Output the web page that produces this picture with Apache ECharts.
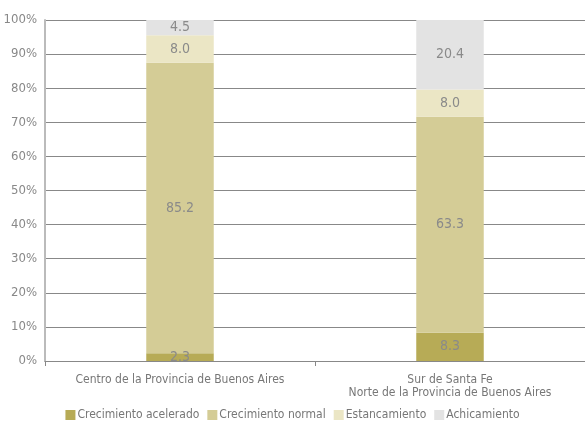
<!DOCTYPE html>
<html>
<head>
<meta charset="utf-8">
<script src="https://cdn.jsdelivr.net/npm/echarts@6/dist/echarts.min.js"></script>
<style>
  html, body { margin: 0; padding: 0; background: #fff; }
  #chart { width: 585px; height: 426px; }
</style>
</head>
<body>
<div id="chart"></div>
<script>
var categories = ['Centro de la Provincia de Buenos Aires', 'Sur de Santa Fe\nNorte de la Provincia de Buenos Aires'];
var seriesNames = ['Crecimiento acelerado', 'Crecimiento normal', 'Estancamiento', 'Achicamiento'];
var acelerado = [2.3, 8.3];
var normal = [85.2, 63.3];
var estancamiento = [8.0, 8.0];
var achicamiento = [4.5, 20.4];
var yTicks = [0, 10, 20, 30, 40, 50, 60, 70, 80, 90, 100];

(function () {
    var chart = echarts.init(document.getElementById('chart'));
    var font = '"Liberation Sans Narrow", "DejaVu Sans Condensed", sans-serif';
    var colors = ['#b7ab56', '#d4cc96', '#ebe6c5', '#e3e3e3'];
    var values = [acelerado, normal, estancamiento, achicamiento];

    var series = seriesNames.map(function (name, i) {
        return {
            name: name,
            type: 'bar',
            stack: 'total',
            barWidth: '25%',
            data: values[i],
            itemStyle: { color: colors[i] },
            label: {
                show: true,
                position: 'inside',
                color: '#8a8a8a',
                fontFamily: font,
                fontSize: 14,
                formatter: function (p) { return p.value.toFixed(1); }
            }
        };
    });

    var option = {
        animation: false,
        textStyle: { fontFamily: font },
        grid: { left: 45, right: 0, top: 20, bottom: 65 },
        legend: {
            bottom: 0,
            left: 'center',
            itemWidth: 10,
            itemHeight: 10,
            itemGap: 8,
            icon: 'rect',
            textStyle: { color: '#777', fontSize: 12, fontFamily: font, padding: [0, 0, 0, -3] },
            data: seriesNames
        },
        xAxis: {
            type: 'category',
            data: categories,
            axisLine: { lineStyle: { color: '#888' } },
            axisTick: { show: true, alignWithLabel: false, length: 5, lineStyle: { color: '#888' } },
            axisLabel: { interval: 0, color: '#777', fontSize: 12, fontFamily: font, margin: 12, lineHeight: 13 }
        },
        yAxis: {
            type: 'value',
            min: yTicks[0],
            max: yTicks[yTicks.length - 1],
            interval: 10,
            axisLine: { show: true, lineStyle: { color: '#bbb', width: 2 } },
            axisTick: { show: false },
            splitLine: { lineStyle: { color: '#888' } },
            axisLabel: { color: '#888', fontSize: 13, fontFamily: font, margin: 8, formatter: '{value}%' }
        },
        series: series
    };
    chart.setOption(option);
})();
</script>
</body>
</html>
